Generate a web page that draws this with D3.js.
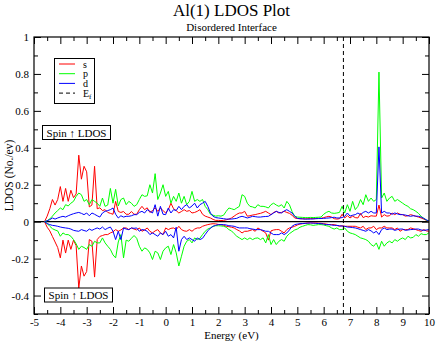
<!DOCTYPE html>
<html>
<head>
<meta charset="utf-8">
<script src="https://cdn.jsdelivr.net/npm/d3@7"></script>
<style>
body { margin:0; background:#fff; }
text { font-family:"Liberation Serif","Times New Roman",serif; }
</style>
</head>
<body>
<svg id="chart"></svg>
<script>

// energy grid (eV), 0.1 eV steps from -4.6 to 10.0
var energy = d3.range(147).map(function(i) { return Math.round((-4.6 + i*0.1)*10)/10; });

// spin up (positive) and spin down (negative) LDOS, per orbital
var sUp = [
  0,0.03,0.07,0.12,0.09,0.12,
  0.19,0.11,0.18,0.11,0.17,0.13,0.15,0.36,0.23,0.30,
  0.27,0.08,0.09,0.30,0.07,0.075,0.06,0.065,0.05,0.045,
  0.04,0.11,0.055,0.05,0.055,0.04,0.04,0.055,0.04,0.04,
  0.065,0.083,0.065,0.075,0.05,0.06,0.075,0.056,0.074,0.06,
  0.047,0.065,0.10,0.07,0.06,0.047,0.055,0.065,0.056,0.06,
  0.047,0.05,0.056,0.065,0.04,0.03,0.025,0.02,0.012,0.007,
  0.007,0.006,0.007,0.01,0.014,0.02,0.03,0.04,0.047,0.047,
  0.056,0.03,0.032,0.036,0.038,0.042,0.045,0.05,0.056,0.047,
  0.038,0.05,0.056,0.047,0.05,0.056,0.05,0.045,0.035,0.02,
  0.017,0.016,0.016,0.015,0.016,0.017,0.016,0.017,0.018,0.018,
  0.022,0.026,0.029,0.025,0.016,0.014,0.016,0.04,0.02,0.033,
  0.02,0.03,0.022,0.02,0.045,0.022,0.029,0.025,0.032,0.03,
  0.03,0.09,0.025,0.038,0.03,0.032,0.047,0.038,0.047,0.04,
  0.038,0.03,0.032,0.038,0.034,0.029,0.025,0.02,0.014,0.007,
  0
];
var pUp = [
  0,0.005,0.015,0.03,0.047,0.06,
  0.074,0.065,0.092,0.085,0.10,0.11,0.137,0.155,0.146,0.11,
  0.12,0.092,0.12,0.11,0.10,0.083,0.128,0.083,0.09,0.18,
  0.10,0.175,0.085,0.12,0.128,0.092,0.11,0.10,0.083,0.092,
  0.12,0.146,0.137,0.14,0.20,0.155,0.26,0.12,0.155,0.20,
  0.137,0.164,0.10,0.137,0.11,0.155,0.10,0.137,0.092,0.11,
  0.164,0.11,0.12,0.11,0.12,0.083,0.065,0.04,0.035,0.03,
  0.032,0.03,0.035,0.056,0.074,0.07,0.065,0.074,0.083,0.146,
  0.137,0.10,0.083,0.08,0.074,0.092,0.083,0.083,0.08,0.074,
  0.092,0.10,0.09,0.083,0.092,0.074,0.11,0.092,0.055,0.029,
  0.025,0.024,0.023,0.022,0.022,0.023,0.022,0.023,0.024,0.025,
  0.04,0.05,0.056,0.047,0.045,0.047,0.05,0.083,0.047,0.092,
  0.056,0.11,0.065,0.083,0.12,0.092,0.146,0.11,0.128,0.11,
  0.12,0.81,0.128,0.155,0.11,0.128,0.137,0.11,0.12,0.11,
  0.10,0.09,0.083,0.07,0.065,0.056,0.045,0.029,0.018,0.008,
  0.002
];
var dUp = [
  0,0.005,0.011,0.02,0.014,0.02,
  0.025,0.029,0.025,0.032,0.038,0.043,0.047,0.05,0.045,0.038,
  0.047,0.032,0.047,0.04,0.032,0.025,0.047,0.056,0.06,0.065,
  0.074,0.04,0.02,0.032,0.025,0.029,0.029,0.032,0.038,0.038,
  0.05,0.056,0.047,0.065,0.056,0.047,0.092,0.03,0.083,0.04,
  0.038,0.074,0.047,0.065,0.06,0.083,0.065,0.083,0.092,0.074,
  0.085,0.10,0.074,0.092,0.10,0.11,0.083,0.047,0.029,0.022,
  0.02,0.018,0.016,0.014,0.014,0.014,0.016,0.018,0.025,0.029,
  0.025,0.02,0.024,0.029,0.027,0.025,0.025,0.027,0.028,0.029,
  0.038,0.047,0.056,0.05,0.047,0.058,0.065,0.056,0.047,0.029,
  0.018,0.016,0.015,0.014,0.014,0.014,0.015,0.016,0.017,0.017,
  0.018,0.019,0.02,0.022,0.024,0.02,0.02,0.022,0.029,0.047,
  0.03,0.035,0.038,0.047,0.038,0.05,0.056,0.047,0.056,0.047,
  0.047,0.405,0.047,0.056,0.047,0.047,0.04,0.047,0.042,0.038,
  0.038,0.036,0.032,0.029,0.032,0.03,0.029,0.025,0.018,0.01,
  0.003
];
var sDown = [
  0,-0.03,-0.05,-0.08,-0.11,-0.14,
  -0.196,-0.10,-0.17,-0.10,-0.15,-0.10,-0.13,-0.36,-0.24,-0.295,
  -0.27,-0.097,-0.106,-0.30,-0.097,-0.08,-0.075,-0.07,-0.07,-0.061,
  -0.055,-0.043,-0.052,-0.045,-0.034,-0.034,-0.043,-0.034,-0.04,-0.045,
  -0.034,-0.052,-0.045,-0.034,-0.052,-0.061,-0.05,-0.043,-0.061,-0.07,
  -0.034,-0.043,-0.036,-0.034,-0.043,-0.025,-0.043,-0.05,-0.052,-0.043,
  -0.052,-0.04,-0.034,-0.034,-0.025,-0.02,-0.016,-0.013,-0.011,-0.012,
  -0.015,-0.016,-0.02,-0.025,-0.027,-0.03,-0.034,-0.043,-0.05,-0.061,
  -0.052,-0.052,-0.048,-0.043,-0.052,-0.034,-0.043,-0.052,-0.061,-0.10,
  -0.05,-0.045,-0.043,-0.043,-0.052,-0.061,-0.043,-0.034,-0.03,-0.025,
  -0.018,-0.013,-0.011,-0.009,-0.007,-0.007,-0.007,-0.007,-0.008,-0.009,
  -0.011,-0.013,-0.016,-0.016,-0.016,-0.02,-0.025,-0.022,-0.025,-0.025,
  -0.025,-0.025,-0.025,-0.03,-0.034,-0.025,-0.043,-0.034,-0.034,-0.025,
  -0.043,-0.034,-0.034,-0.025,-0.034,-0.034,-0.034,-0.043,-0.034,-0.052,
  -0.043,-0.043,-0.043,-0.034,-0.038,-0.043,-0.048,-0.052,-0.043,-0.05,
  -0.052
];
var pDown = [
  0,-0.01,-0.025,-0.038,-0.045,-0.05,
  -0.079,-0.061,-0.07,-0.07,-0.079,-0.097,-0.12,-0.15,-0.133,-0.14,
  -0.15,-0.124,-0.133,-0.106,-0.115,-0.115,-0.088,-0.115,-0.133,-0.15,
  -0.18,-0.196,-0.11,-0.07,-0.196,-0.10,-0.106,-0.09,-0.075,-0.09,
  -0.133,-0.16,-0.142,-0.15,-0.169,-0.205,-0.16,-0.169,-0.205,-0.16,
  -0.142,-0.133,-0.178,-0.124,-0.169,-0.24,-0.187,-0.133,-0.106,-0.097,
  -0.115,-0.088,-0.097,-0.09,-0.07,-0.052,-0.04,-0.034,-0.025,-0.022,
  -0.022,-0.023,-0.025,-0.03,-0.043,-0.05,-0.065,-0.079,-0.088,-0.097,
  -0.088,-0.097,-0.088,-0.097,-0.09,-0.088,-0.097,-0.088,-0.115,-0.07,
  -0.124,-0.097,-0.124,-0.106,-0.097,-0.106,-0.079,-0.065,-0.055,-0.045,
  -0.04,-0.03,-0.025,-0.02,-0.016,-0.017,-0.02,-0.018,-0.016,-0.016,
  -0.018,-0.022,-0.025,-0.034,-0.04,-0.034,-0.043,-0.043,-0.034,-0.052,
  -0.061,-0.065,-0.07,-0.079,-0.088,-0.092,-0.097,-0.106,-0.124,-0.133,
  -0.115,-0.15,-0.106,-0.133,-0.115,-0.106,-0.115,-0.097,-0.106,-0.095,
  -0.088,-0.097,-0.079,-0.088,-0.085,-0.07,-0.079,-0.065,-0.07,-0.07,
  -0.06
];
var dDown = [
  0,-0.01,-0.016,-0.02,-0.022,-0.025,
  -0.029,-0.032,-0.034,-0.036,-0.04,-0.047,-0.05,-0.052,-0.043,-0.048,
  -0.052,-0.04,-0.047,-0.04,-0.034,-0.04,-0.029,-0.043,-0.035,-0.029,
  -0.052,-0.097,-0.052,-0.097,-0.034,-0.04,-0.043,-0.034,-0.036,-0.034,
  -0.052,-0.043,-0.045,-0.052,-0.07,-0.061,-0.07,-0.079,-0.061,-0.07,
  -0.052,-0.079,-0.07,-0.088,-0.03,-0.16,-0.097,-0.079,-0.097,-0.088,
  -0.097,-0.106,-0.088,-0.097,-0.09,-0.07,-0.05,-0.035,-0.025,-0.02,
  -0.016,-0.016,-0.016,-0.018,-0.022,-0.023,-0.025,-0.03,-0.034,-0.034,
  -0.034,-0.034,-0.038,-0.04,-0.043,-0.043,-0.043,-0.047,-0.052,-0.052,
  -0.061,-0.07,-0.07,-0.07,-0.061,-0.07,-0.061,-0.045,-0.025,-0.016,
  -0.013,-0.011,-0.01,-0.009,-0.008,-0.007,-0.008,-0.009,-0.01,-0.011,
  -0.013,-0.016,-0.016,-0.018,-0.02,-0.02,-0.022,-0.024,-0.025,-0.029,
  -0.03,-0.032,-0.034,-0.038,-0.043,-0.047,-0.052,-0.043,-0.05,-0.061,
  -0.052,-0.07,-0.043,-0.034,-0.043,-0.04,-0.04,-0.047,-0.043,-0.04,
  -0.04,-0.047,-0.045,-0.043,-0.042,-0.04,-0.04,-0.045,-0.047,-0.045,
  -0.043
];

var fermiEnergy = 6.75;
var xTicks = [-5,-4,-3,-2,-1,0,1,2,3,4,5,6,7,8,9,10];
var yTicks = [-0.4,-0.2,0,0.2,0.4,0.6,0.8,1];

var series = [
  {name:"s", color:"#ff0000", values:sUp},
  {name:"p", color:"#00ff00", values:pUp},
  {name:"d", color:"#0000ff", values:dUp},
  {name:"s", color:"#ff0000", values:sDown},
  {name:"p", color:"#00ff00", values:pDown},
  {name:"d", color:"#0000ff", values:dDown}
];

var width = 436;
var height = 341;
var serif = "'Liberation Serif','Times New Roman',serif";

var svg = d3.select("#chart")
            .attr("width",width)
            .attr("height",height);

svg.append("rect").attr("width",width).attr("height",height).attr("fill","#fff");

var x = d3.scaleLinear().domain([-5,10]).range([34,429]);
var y = d3.scaleLinear().domain([-0.5,1]).range([314,37]);

var xMinor = d3.range(-4.5,10,1);
var yMinor = d3.range(-0.5,1,0.2).map(function(d) { return Math.round(d*10)/10; });

svg.append("clipPath").attr("id","clip")
  .append("rect")
  .attr("x",x(-5)).attr("y",y(1))
  .attr("width",x(10)-x(-5)).attr("height",y(-0.5)-y(1));

// zero line
svg.append("line")
  .attr("x1",x(-5)).attr("x2",x(10))
  .attr("y1",y(0)).attr("y2",y(0))
  .attr("stroke","#000").attr("stroke-width",1.2);

// data lines
var line = d3.line()
  .x(function(d,i) { return x(energy[i]); })
  .y(function(d) { return y(d); });

svg.append("g").attr("clip-path","url(#clip)")
  .selectAll("path")
  .data(series)
  .enter()
  .append("path")
  .attr("d",function(d) { return line(d.values); })
  .attr("fill","none")
  .attr("stroke",function(d) { return d.color; })
  .attr("stroke-width",1);

// fermi level
svg.append("line")
  .attr("x1",x(fermiEnergy)).attr("x2",x(fermiEnergy))
  .attr("y1",y(1)).attr("y2",y(-0.5))
  .attr("stroke","#000").attr("stroke-width",1)
  .attr("stroke-dasharray","4,3");

// axes, ticks pointing inward
var fmt = function(d) { return String(d); };

var addAxis = function(axis,tx,ty)
{
  var g = svg.append("g").attr("transform","translate("+tx+","+ty+")").call(axis);
  g.attr("font-family",serif).attr("font-size",11);
  g.select(".domain").remove();
  g.selectAll("text").attr("fill","#000").style("font-family",serif);
  g.selectAll("line").attr("stroke","#000");
  return g;
}

addAxis(d3.axisBottom(x).tickValues(xTicks).tickFormat(fmt).tickSizeInner(-7).tickSizeOuter(0).tickPadding(4),0,y(-0.5));
addAxis(d3.axisBottom(x).tickValues(xMinor).tickFormat("").tickSizeInner(-4).tickSizeOuter(0),0,y(-0.5));
addAxis(d3.axisTop(x).tickValues(xTicks).tickFormat("").tickSizeInner(-7).tickSizeOuter(0),0,y(1));
addAxis(d3.axisTop(x).tickValues(xMinor).tickFormat("").tickSizeInner(-4).tickSizeOuter(0),0,y(1));
addAxis(d3.axisLeft(y).tickValues(yTicks).tickFormat(fmt).tickSizeInner(-7).tickSizeOuter(0).tickPadding(5),x(-5),0);
addAxis(d3.axisLeft(y).tickValues(yMinor).tickFormat("").tickSizeInner(-4).tickSizeOuter(0),x(-5),0);
addAxis(d3.axisRight(y).tickValues(yTicks).tickFormat("").tickSizeInner(-7).tickSizeOuter(0),x(10),0);
addAxis(d3.axisRight(y).tickValues(yMinor).tickFormat("").tickSizeInner(-4).tickSizeOuter(0),x(10),0);

// frame
svg.append("rect")
  .attr("x",x(-5)).attr("y",y(1))
  .attr("width",x(10)-x(-5)).attr("height",y(-0.5)-y(1))
  .attr("fill","none").attr("stroke","#000").attr("stroke-width",1.2);

// titles
svg.append("text").attr("x",231.5).attr("y",16).attr("text-anchor","middle")
  .attr("font-size",17).text("Al(1) LDOS Plot");
svg.append("text").attr("x",231.5).attr("y",31).attr("text-anchor","middle")
  .attr("font-size",11).text("Disordered Interface");
svg.append("text").attr("x",231.5).attr("y",338.5).attr("text-anchor","middle")
  .attr("font-size",11).text("Energy (eV)");
svg.append("text")
  .attr("transform","translate(13,"+((y(1)+y(-0.5))/2)+") rotate(-90)")
  .attr("text-anchor","middle").attr("font-size",11.5).text("LDOS (No./ev)");

// legend
var legendItems = [
  {label:"s", color:"#ff0000", dash:null},
  {label:"p", color:"#00ff00", dash:null},
  {label:"d", color:"#0000ff", dash:null},
  {label:"E", color:"#000", dash:"4,3"}
];
svg.append("rect").attr("x",54.5).attr("y",58.5).attr("width",40).attr("height",45)
  .attr("fill","#fff").attr("stroke","#000").attr("stroke-width",1);
var lg = svg.selectAll(".leg").data(legendItems).enter().append("g").attr("class","leg")
  .attr("transform",function(d,i) { return "translate(0,"+(64+i*9.7)+")"; });
lg.append("line").attr("x1",59).attr("x2",75).attr("y1",0).attr("y2",0)
  .attr("stroke",function(d) { return d.color; })
  .attr("stroke-dasharray",function(d) { return d.dash; });
var lt = lg.append("text").attr("x",83).attr("y",3.5).attr("font-size",10)
  .text(function(d) { return d.label; });
lt.filter(function(d) { return d.label=="E"; })
  .append("tspan").attr("font-size",7).attr("dy",2).text("f");

// spin annotations
var spinBoxes = [{x:42,y:125},{x:44,y:287.5}];
spinBoxes.forEach(function(b)
{
  svg.append("rect").attr("x",b.x+0.5).attr("y",b.y+0.5).attr("width",68).attr("height",14)
    .attr("fill","#fff").attr("stroke","#000").attr("stroke-width",1);
  svg.append("text").attr("x",b.x+34.5).attr("y",b.y+11.5).attr("text-anchor","middle")
    .attr("font-size",11).text("Spin \u2191 LDOS");
});

</script>
</body>
</html>
